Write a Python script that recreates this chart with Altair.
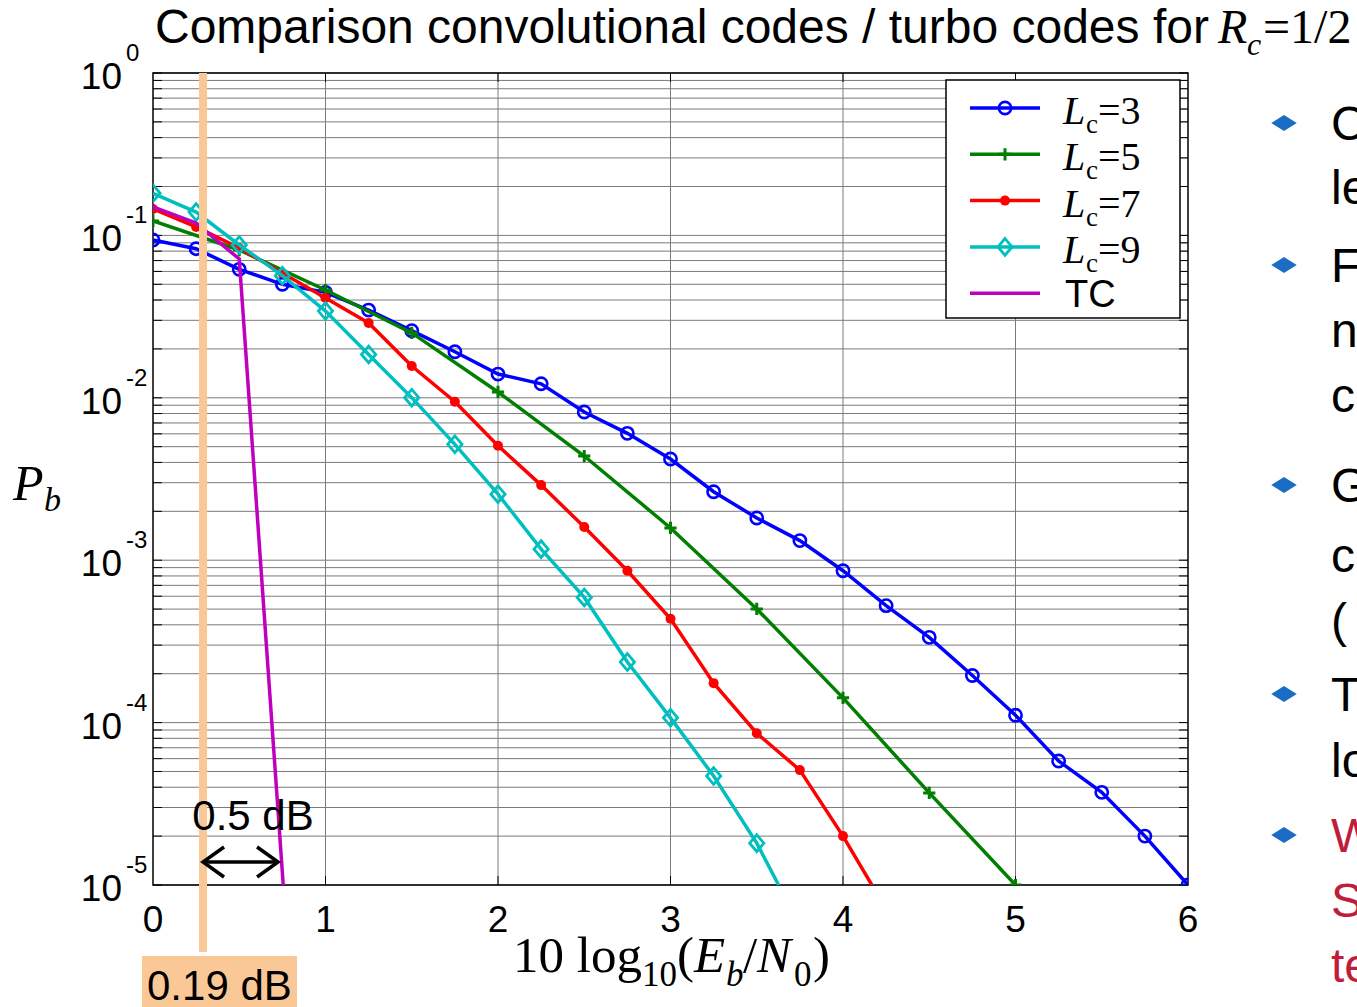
import altair as alt
import pandas as pd

# ---------------- data ----------------
ebn0_q = [0, 0.25, 0.5, 0.75, 1.0, 1.25, 1.5, 1.75, 2.0, 2.25, 2.5, 2.75, 3.0,
          3.25, 3.5, 3.75, 4.0, 4.25, 4.5, 4.75, 5.0, 5.25, 5.5, 5.75, 6.0]
pb_lc3 = [0.0937, 0.0828, 0.0618, 0.0500, 0.0446, 0.0347, 0.0259, 0.0192, 0.0140,
          0.0122, 0.00818, 0.00604, 0.00420, 0.00264, 0.00182, 0.00132, 0.000861,
          0.000525, 0.000335, 0.000195, 0.000111, 5.8e-5, 3.72e-5, 2.0e-5, 1.0e-5]

ebn0_h = [0, 0.5, 1.0, 1.5, 2.0, 2.5, 3.0, 3.5, 4.0, 4.5, 5.0]
pb_lc5 = [0.1227, 0.0813, 0.0461, 0.0251, 0.01086, 0.00438, 0.00158, 0.000501,
          0.000142, 3.69e-5, 1.0e-5]

ebn0_lc7 = [0, 0.25, 0.5, 0.75, 1.0, 1.25, 1.5, 1.75, 2.0, 2.25, 2.5, 2.75, 3.0,
            3.25, 3.5, 3.75, 4.0, 4.25]
pb_lc7 = [0.1455, 0.1127, 0.0836, 0.0587, 0.0412, 0.0289, 0.0157, 0.00946, 0.00507,
          0.0029, 0.0016, 0.000861, 0.000436, 0.000175, 8.6e-5, 5.1e-5, 2.0e-5, 7.1e-6]

ebn0_lc9 = [0, 0.25, 0.5, 0.75, 1.0, 1.25, 1.5, 1.75, 2.0, 2.25, 2.5, 2.75, 3.0,
            3.25, 3.5, 3.75]
pb_lc9 = [0.1816, 0.1393, 0.0873, 0.0565, 0.0342, 0.0185, 0.01002, 0.00517, 0.00255,
          0.00117, 0.00059, 0.000236, 0.000107, 4.69e-5, 1.81e-5, 5.6e-6]

ebn0_tc = [0, 0.25, 0.5, 0.755]
pb_tc = [0.150, 0.119, 0.0716, 1.0e-5]

x_ticks = [0, 1, 2, 3, 4, 5, 6]
y_decades = [1, 0.1, 0.01, 0.001, 0.0001, 0.00001]
y_sup = ["0", "-1", "-2", "-3", "-4", "-5"]

legend_labels = ["3", "5", "7", "9"]
orange_x = 0.29          # position of the highlighted vertical line
arrow_x = [0.29, 0.725]  # 0.5 dB arrow end points

bullet_rows = [("C", 123, "black"), ("le", 187, "black"), ("F", 265, "black"),
               ("n", 330, "black"), ("c", 395, "black"), ("G", 485, "black"),
               ("c", 555, "black"), ("(", 620, "black"), ("T", 694, "black"),
               ("lo", 760, "black"), ("W", 835, "#BE1E3C"), ("S", 900, "#BE1E3C"),
               ("te", 965, "#BE1E3C")]
bullet_marks = [123, 265, 485, 694, 835]

# ---------------- layout ----------------
L0, T0 = 153, 73
W, H = 1035, 812
SANS = "Liberation Sans"
SERIF = "Liberation Serif"

XS = alt.Scale(domain=[0, 6], nice=False, zero=False)
YS = alt.Scale(type="log", domain=[1e-5, 1], nice=False)
X = alt.X("x:Q", scale=XS, axis=None)
Y = alt.Y("p:Q", scale=YS, axis=None)

C_BLUE, C_GREEN, C_RED, C_CYAN, C_MAG = "#0000FF", "#007F00", "#FF0000", "#00BFBF", "#BF00BF"
ORANGE = "#FAC896"
GRID = "#7a7a7a"
LW = 3.5


def txt(s, px, py, size, font=SANS, style="normal", color="black", align="left"):
    return alt.Chart(pd.DataFrame({"t": [s]})).mark_text(
        font=font, fontSize=size, fontStyle=style, color=color, align=align,
        baseline="alphabetic"
    ).encode(text="t:N", x=alt.value(px - L0), y=alt.value(py - T0))


def vrule(px1, px2, py1, py2, color="black", sw=1.0):
    return alt.Chart(pd.DataFrame({"d": [0]})).mark_rule(color=color, strokeWidth=sw).encode(
        x=alt.value(px1 - L0), x2=alt.value(px2 - L0), y=alt.value(py1 - T0), y2=alt.value(py2 - T0))


layers = []

# grid
grid_vals = []
for k in range(-5, 0):
    for m in range(1, 10):
        grid_vals.append(m * 10.0 ** k)
grid_vals.append(1.0)
gdf = pd.DataFrame({"p": grid_vals})
layers.append(alt.Chart(gdf).mark_rule(color=GRID, strokeWidth=1).encode(
    y=Y, x=alt.value(0), x2=alt.value(W)))
vdf = pd.DataFrame({"x": [1, 2, 3, 4, 5]})
layers.append(alt.Chart(vdf).mark_rule(color=GRID, strokeWidth=1).encode(
    x=X, y=alt.value(0), y2=alt.value(H)))

# inward ticks
layers.append(alt.Chart(gdf).mark_rule(color="black", strokeWidth=1).encode(
    y=Y, x=alt.value(0), x2=alt.value(9)))
layers.append(alt.Chart(gdf).mark_rule(color="black", strokeWidth=1).encode(
    y=Y, x=alt.value(W - 9), x2=alt.value(W)))
layers.append(alt.Chart(vdf).mark_rule(color="black", strokeWidth=1).encode(
    x=X, y=alt.value(H - 9), y2=alt.value(H)))
layers.append(alt.Chart(vdf).mark_rule(color="black", strokeWidth=1).encode(
    x=X, y=alt.value(0), y2=alt.value(9)))

# frame
layers.append(alt.Chart(pd.DataFrame({"d": [0]})).mark_rect(
    fillOpacity=0, stroke="black", strokeWidth=1.5).encode(
    x=alt.value(0), x2=alt.value(W), y=alt.value(0), y2=alt.value(H)))

# curves
CIRCLE = "circle"
PLUS = "M -1 0 L 1 0 M 0 -1 L 0 1"
DIAM = "M 0 -1 L 0.85 0 L 0 1 L -0.85 0 Z"

MK = {
    "lc3": (CIRCLE, False, 150, 2.6),
    "lc5": (PLUS, False, 150, 3),
    "lc7": (CIRCLE, True, 100, 1),
    "lc9": (DIAM, False, 280, 2.8),
}


def series(xs, ys, color, mk=None):
    df = pd.DataFrame({"x": xs, "p": ys})
    base = alt.Chart(df).encode(x=X, y=Y)
    out = [base.mark_line(color=color, strokeWidth=LW, clip=True)]
    if mk is not None:
        shape, filled, size, sw = mk
        out.append(base.mark_point(shape=shape, filled=filled, color=color, size=size,
                                   strokeWidth=sw, opacity=1, clip=True))
    return out


layers += series(ebn0_q, pb_lc3, C_BLUE, MK["lc3"])
layers += series(ebn0_h, pb_lc5, C_GREEN, MK["lc5"])
layers += series(ebn0_lc7, pb_lc7, C_RED, MK["lc7"])
layers += series(ebn0_lc9, pb_lc9, C_CYAN, MK["lc9"])
layers += series(ebn0_tc, pb_tc, C_MAG)

# orange highlight line + label
layers.append(alt.Chart(pd.DataFrame({"x": [orange_x]})).mark_rule(
    color=ORANGE, strokeWidth=8).encode(x=X, y=alt.value(0), y2=alt.value(952 - T0)))
layers.append(alt.Chart(pd.DataFrame({"d": [0]})).mark_rect(fill=ORANGE).encode(
    x=alt.value(142 - L0), x2=alt.value(297 - L0), y=alt.value(956 - T0), y2=alt.value(1010 - T0)))
layers.append(txt("0.19 dB", 147, 1000, 42))

# 0.5 dB arrow
layers.append(alt.Chart(pd.DataFrame({"x": [arrow_x[0]], "x2": [arrow_x[1]]})).mark_rule(
    color="black", strokeWidth=3.5).encode(x=X, x2="x2:Q", y=alt.value(862 - T0)))
layers.append(alt.Chart(pd.DataFrame({"x": [arrow_x[0]]})).mark_point(
    shape="M 1.4 -1 L 0 0 L 1.4 1", filled=False, color="black", strokeWidth=3.5,
    size=900, opacity=1).encode(x=X, y=alt.value(862 - T0)))
layers.append(alt.Chart(pd.DataFrame({"x": [arrow_x[1]]})).mark_point(
    shape="M -1.4 -1 L 0 0 L -1.4 1", filled=False, color="black", strokeWidth=3.5,
    size=900, opacity=1).encode(x=X, y=alt.value(862 - T0)))
layers.append(txt("0.5 dB", 253, 830, 42, align="center"))

# y tick labels
ydf = pd.DataFrame({"p": y_decades, "sup": y_sup, "ten": ["10"] * len(y_decades)})
layers.append(alt.Chart(ydf).mark_text(font=SANS, fontSize=37, align="right",
                                      baseline="alphabetic", dy=16).encode(
    y=Y, x=alt.value(122 - L0), text="ten:N"))
layers.append(alt.Chart(ydf).mark_text(font=SANS, fontSize=24, align="left",
                                      baseline="alphabetic", dy=-12).encode(
    y=Y, x=alt.value(126 - L0), text="sup:N"))

# x tick labels
xdf = pd.DataFrame({"x": x_ticks, "lab": [str(v) for v in x_ticks]})
layers.append(alt.Chart(xdf).mark_text(font=SANS, fontSize=37, align="center",
                                      baseline="alphabetic").encode(
    x=X, y=alt.value(932 - T0), text="lab:N"))

# x axis title: 10 log10(Eb/N0)
layers += [
    txt("10 log", 513, 972, 51, SERIF),
    txt("10", 642, 986, 35, SERIF),
    txt("(", 677, 972, 51, SERIF),
    txt("E", 694, 972, 51, SERIF, "italic"),
    txt("b", 726, 986, 35, SERIF, "italic"),
    txt("/", 743, 972, 51, SERIF),
    txt("N", 757, 972, 51, SERIF, "italic"),
    txt("0", 794, 986, 35, SERIF),
    txt(")", 813, 972, 51, SERIF),
]

# y axis title: P_b
layers += [txt("P", 13, 500, 50, SERIF, "italic"), txt("b", 44, 511, 34, SERIF, "italic")]

# title
layers += [
    txt("Comparison convolutional codes / turbo codes for", 155, 43, 48),
    txt("R", 1218, 43, 48, SERIF, "italic"),
    txt("c", 1247, 55, 32, SERIF, "italic"),
    txt("=1/2", 1263, 43, 48, SERIF),
]

# legend box
layers.append(alt.Chart(pd.DataFrame({"d": [0]})).mark_rect(
    fill="white", stroke="black", strokeWidth=1.5).encode(
    x=alt.value(946 - L0), x2=alt.value(1180 - L0), y=alt.value(80 - T0), y2=alt.value(318 - T0)))

leg_colors = [C_BLUE, C_GREEN, C_RED, C_CYAN, C_MAG]
leg_marks = [MK["lc3"], MK["lc5"], MK["lc7"], MK["lc9"], None]
for i, col in enumerate(leg_colors):
    cy = 108 + i * 46.3
    layers.append(vrule(970, 1040, cy, cy, col, LW))
    if leg_marks[i] is not None:
        shp, fil, sz, sw = leg_marks[i]
        layers.append(alt.Chart(pd.DataFrame({"d": [0]})).mark_point(
            shape=shp, filled=fil, color=col, size=sz, strokeWidth=sw, opacity=1).encode(
            x=alt.value(1005 - L0), y=alt.value(cy - T0)))
    if i < 4:
        layers += [txt("L", 1063, cy + 16, 40, SERIF, "italic"),
                   txt("c", 1086, cy + 25, 27, SERIF),
                   txt("=" + legend_labels[i], 1098, cy + 16, 40, SERIF)]
    else:
        layers.append(txt("TC", 1065, cy + 14, 38))

# right-hand slide bullets (cut off by the page edge)
for cy in bullet_marks:
    layers.append(alt.Chart(pd.DataFrame({"d": [0]})).mark_point(
        shape="M 0 -0.62 L 1 0 L 0 0.62 L -1 0 Z", filled=True, color="#1B6CC4",
        size=650, opacity=1).encode(x=alt.value(1284 - L0), y=alt.value(cy - T0)))
for s, cy, col in bullet_rows:
    layers.append(txt(s, 1331, cy + 17, 48, SANS, color=col))

chart = alt.layer(*layers).properties(
    width=W, height=H,
    autosize=alt.AutoSizeParams(type="none"),
    padding={"left": L0, "top": T0, "right": 1357 - L0 - W, "bottom": 1007 - T0 - H},
    background="white",
).configure_view(stroke=None)

chart.save("out.html", embed_options={"renderer": "svg", "actions": False})
